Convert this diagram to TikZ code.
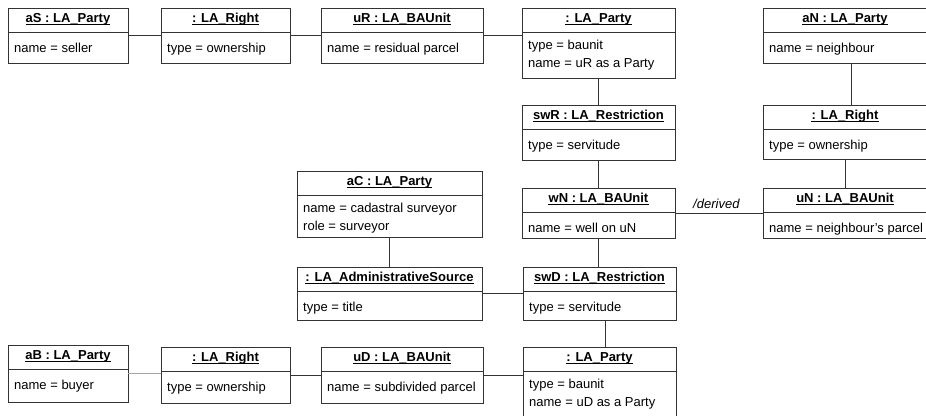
\documentclass[tikz,border=0pt]{standalone}
\usepackage{fontspec}
\setmainfont{Liberation Sans}
\usetikzlibrary{positioning}

\tikzset{
    objbox/.style={draw=black!80, line width=1pt, fill=white, inner sep=0pt, outer sep=0pt},
    objtitle/.style={font=\fontsize{13}{18}\selectfont\bfseries, inner sep=0pt, anchor=base},
    objattr/.style={font=\fontsize{13}{18}\selectfont, inner sep=0pt, anchor=north west, align=left, execute at begin node=\strut},
    link/.style={draw=black!80, line width=1pt},
    linklabel/.style={font=\fontsize{13}{18}\selectfont\itshape, inner sep=0pt}
}

% #1 name, #2 x, #3 y, #4 width, #5 height, #6 title, #7 attributes
\newcommand{\umlobj}[7]{%
    \node[objbox, minimum width=#4, minimum height=#5, anchor=north west] (#1) at (#2,#3) {};
    \draw[draw=black!80, line width=1pt] ([yshift=-24]#1.north west) -- ([yshift=-24]#1.north east);
    \node[objtitle] (#1-title) at ([yshift=-14]#1.north) {#6};
    \draw[line width=0.8pt] ([yshift=-2]#1-title.base west) -- ([yshift=-2]#1-title.base east);
    \node[objattr] (#1-attr) at ([xshift=6,yshift=-31.4]#1.north west) {#7};
}

\begin{document}
\begin{tikzpicture}[x=1pt, y=-1pt]
    \useasboundingbox (0,0) rectangle (926,415);
    \clip (0,0) rectangle (926,415);

    % top row
    \umlobj{aS}{8}{8}{120}{55}{aS : LA\_Party}{name = seller}
    \umlobj{rS}{161}{8}{129}{55}{: LA\_Right}{type = ownership}
    \umlobj{uR}{321}{8}{162}{55}{uR : LA\_BAUnit}{name = residual parcel}
    \umlobj{pR}{522}{8}{153}{70}{: LA\_Party}{type = baunit\\ name = uR as a Party}
    \umlobj{aN}{763}{8}{164}{55}{aN : LA\_Party}{name = neighbour}

    % middle
    \umlobj{swR}{522}{105}{153}{55}{swR : LA\_Restriction}{type = servitude}
    \umlobj{rN}{763}{105}{164}{54}{: LA\_Right}{type = ownership}
    \umlobj{aC}{297}{171}{185}{66}{aC : LA\_Party}{name = cadastral surveyor\\ role = surveyor}
    \umlobj{wN}{522}{188}{153}{50}{wN : LA\_BAUnit}{name = well on uN}
    \umlobj{uN}{763}{188}{164}{50}{uN : LA\_BAUnit}{name = neighbour's parcel}
    \umlobj{src}{297}{267}{185}{53}{: LA\_AdministrativeSource}{type = title}
    \umlobj{swD}{523}{267}{153}{53}{swD : LA\_Restriction}{type = servitude}

    % bottom row
    \umlobj{aB}{8}{345}{120}{57}{aB : LA\_Party}{name = buyer}
    \umlobj{rB}{161}{347}{129}{56}{: LA\_Right}{type = ownership}
    \umlobj{uD}{321}{347}{162}{56}{uD : LA\_BAUnit}{name = subdivided parcel}
    \umlobj{pD}{523}{347}{153}{75}{: LA\_Party}{type = baunit\\ name = uD as a Party}

    % links
    \draw[link] (aS.east) -- (rS.west);
    \draw[link] (rS.east) -- (uR.west);
    \draw[link] (uR.east) -- (uR.east -| pR.west);
    \draw[link] (pR.south) -- (swR.north);
    \draw[link] ([xshift=6]aN.south) -- ([xshift=6]aN.south |- rN.north);
    \draw[link] (swR.south) -- (wN.north);
    \draw[link] (rN.south) -- (uN.north);
    \draw[link] (wN.east) -- node[linklabel, above=4pt, pos=0.47] (derived) {/derived} (uN.west);
    \draw[link] (aC.south) -- (src.north);
    \draw[link] (src.east) -- (swD.west);
    \draw[link] (wN.south) -- (wN.south |- swD.north);
    \draw[link] ([xshift=6]swD.south) -- ([xshift=6]swD.south |- pD.north);
    \draw[link, draw=black!35] (aB.east) -- (aB.east -| rB.west);
    \draw[link] (rB.east) -- (uD.west);
    \draw[link] (uD.east) -- (uD.east -| pD.west);
\end{tikzpicture}
\end{document}
